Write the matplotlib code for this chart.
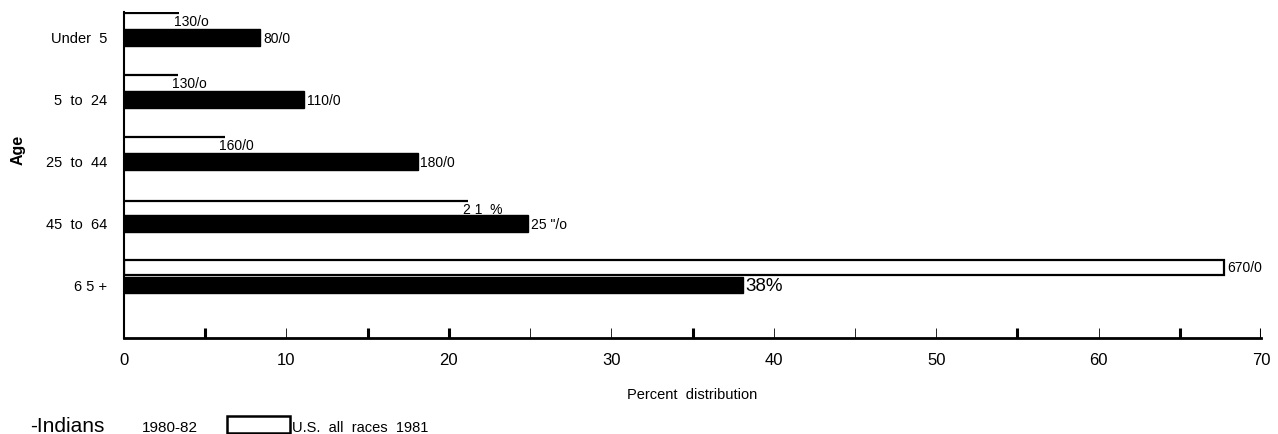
# Age distribution of deaths, Indians vs U.S. all races (horizontal bars)

import numpy as np
import matplotlib.pyplot as plt
from matplotlib.patches import Rectangle
from matplotlib.transforms import blended_transform_factory

ages = ['Under  5', '5  to  24', '25  to  44', '45  to  64', '6 5 +']
indians = [8.4, 11.1, 18.1, 24.9, 38.1]
us_all = [3.4, 3.3, 6.2, 21.2, 67.7]
indians_lbl = ['80/0', '110/0', '180/0', '25 "/o', '38%']
us_lbl = ['130/o', '130/o', '160/0', '2 1  %', '670/0']
xticks = [0, 10, 20, 30, 40, 50, 60, 70]
thick_ticks = [5, 15, 20, 35, 55, 65, 70]
thin_ticks = [10, 25, 30, 40, 45, 50, 60]

plt.rcParams['font.family'] = ['Liberation Sans', 'DejaVu Sans']

fig = plt.figure(figsize=(12.78, 4.34), dpi=100)
ax = fig.add_axes([124/1278, 1 - 338/434, (1261 - 124)/1278, 326/434])

y = np.arange(len(ages))
ax.barh(y, indians, height=0.27, color='black', edgecolor='black')

# U.S. bars: thin outlines (just a line for the smaller groups)
us_off = np.array([-0.395, -0.39, -0.39, -0.36, -0.28])
us_h = np.array([0.0, 0.0, 0.0, 0.0, 0.24])
ax.barh(y + us_off, us_all, height=us_h, color='white', edgecolor='black',
        linewidth=1.6)

for i in range(len(ages)):
    if i < 4:
        ax.text(us_all[i] - 0.35, y[i] + us_off[i] + 0.03, us_lbl[i],
                fontsize=10, va='top', ha='left')
    else:
        ax.text(us_all[i] + 0.2, y[i] + us_off[i], us_lbl[i],
                fontsize=10, va='center', ha='left')
    big = 13.5 if i == 4 else 10
    ax.text(indians[i] + 0.15, y[i] + 0.03, indians_lbl[i],
            fontsize=big, va='center', ha='left')

ax.set_ylim(4.855, -0.41)
ax.set_xlim(0, 70)
ax.set_yticks(y)
ax.set_yticklabels(ages, fontsize=10.5)
ax.tick_params(axis='y', length=0, pad=12)
ax.set_xticks(xticks)
ax.set_xticklabels([str(t) for t in xticks], fontsize=12)
ax.tick_params(axis='x', length=0, pad=11)

for s in ['top', 'right']:
    ax.spines[s].set_visible(False)
ax.spines['left'].set_linewidth(1.5)
ax.spines['bottom'].set_linewidth(2)

trans = blended_transform_factory(ax.transData, ax.transAxes)
ax.vlines(thick_ticks, 0, 0.032, color='black', linewidth=2.2, transform=trans)
ax.vlines(thin_ticks, 0, 0.032, color='black', linewidth=0.6, transform=trans)

ax.set_xlabel('Percent  distribution', fontsize=10.5, labelpad=14)
fig.text(18/1278, 1 - 150/434, 'Age', rotation=90, fontsize=11.5,
         fontweight='bold', ha='center', va='center')

# legend along the bottom
fig.text(30/1278, 1 - 427/434, '-Indians', fontsize=15, va='center')
fig.text(142/1278, 1 - 428/434, '1980-82', fontsize=11, va='center')
fig.patches.append(Rectangle((227/1278, 1 - 433/434), 63/1278, 17/434,
                             transform=fig.transFigure, facecolor='white',
                             edgecolor='black', linewidth=1.8))
fig.text(292/1278, 1 - 428/434, 'U.S.  all  races  1981', fontsize=10.5,
         va='center')

fig.savefig('out.png', dpi=100)
